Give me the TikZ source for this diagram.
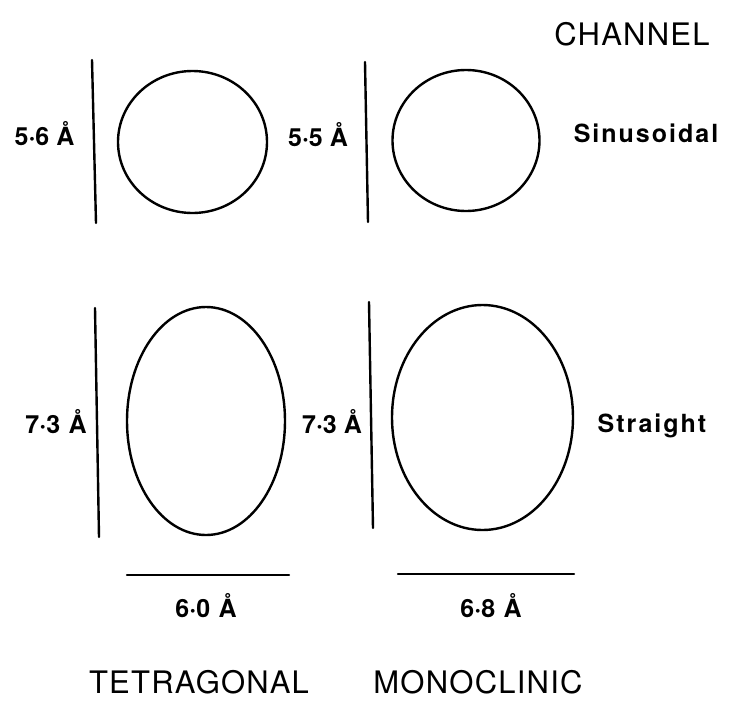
\documentclass[tikz,border=0pt]{standalone}
\usepackage{fontspec}
\setmainfont{TeX Gyre Heros}
\newfontfamily\dimfont{TeX Gyre Heros}[BoldFont={* Bold}]
\newfontfamily\spacedfont[LetterSpace=8]{TeX Gyre Heros}
\newfontfamily\capsfont[LetterSpace=4]{TeX Gyre Heros}
\begin{document}
\begin{tikzpicture}[x=1pt,y=-1pt,
  shapeline/.style={line width=2.4pt, line cap=round},
  dimtext/.style={inner sep=0pt, anchor=base, font=\dimfont\bfseries\fontsize{25}{30}\selectfont},
  chantext/.style={inner sep=0pt, anchor=base, font=\spacedfont\bfseries\fontsize{25}{30}\selectfont},
  headtext/.style={inner sep=0pt, anchor=base, font=\capsfont\fontsize{31}{36}\selectfont}]
\useasboundingbox (0,0) rectangle (729,702);
% channel cross sections
\draw[shapeline] (192.5,142) ellipse [x radius=74.5, y radius=71];
\draw[shapeline] (466,140.5) ellipse [x radius=73.5, y radius=70.5];
\draw[shapeline] (206,421) ellipse [x radius=79, y radius=114];
\draw[shapeline] (482.5,417.5) ellipse [x radius=90.5, y radius=112.5];
% dimension lines
\coordinate (v1a) at (92,60);   \coordinate (v1b) at (96,223);
\coordinate (v2a) at (365,62);  \coordinate (v2b) at (368,222);
\coordinate (v3a) at (95,308);  \coordinate (v3b) at (99,537);
\coordinate (v4a) at (369,302); \coordinate (v4b) at (373,528);
\coordinate (h1a) at (127,575); \coordinate (h1b) at (289,575);
\coordinate (h2a) at (398,574); \coordinate (h2b) at (574,574);
\draw[shapeline] (v1a) -- (v1b);
\draw[shapeline] (v2a) -- (v2b);
\draw[shapeline] (v3a) -- (v3b);
\draw[shapeline] (v4a) -- (v4b);
\draw[shapeline] (h1a) -- (h1b);
\draw[shapeline] (h2a) -- (h2b);
% labels
\node[dimtext] (d1) at (44.5,145) {5·6 Å};
\node[dimtext] (d2) at (318,146) {5·5 Å};
\node[dimtext] (d3) at (56,433) {7·3\,\,Å};
\node[dimtext] (d4) at (332,433) {7·3 Å};
\node[dimtext] (d5) at (206,617) {6·0\,\,Å};
\node[dimtext] (d6) at (491,617) {6·8\,\,Å};
\node[headtext] (ch) at (632,45) {CHANNEL};
\node[chantext] (sin) at (646,142) {Sinusoidal};
\node[chantext] (str) at (652,432) {Straight};
\node[headtext] (tet) at (199,693) {TETRAGONAL};
\node[headtext] (mono) at (478,693) {MONOCLINIC};
\end{tikzpicture}
\end{document}
